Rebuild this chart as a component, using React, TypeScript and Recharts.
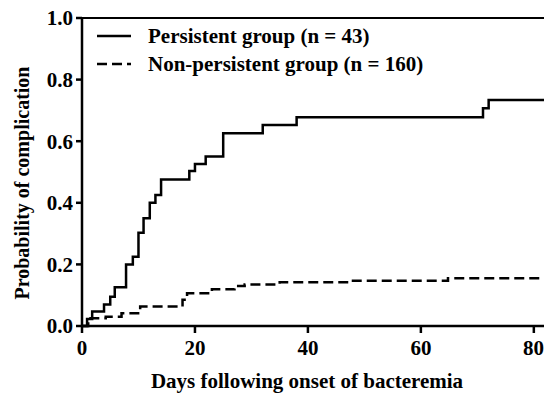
import { LineChart, Line, XAxis, YAxis, Legend, ReferenceLine } from 'recharts'

const persistentDays = [0, 0.9, 1.8, 3.9, 5.0, 5.8, 7.8, 9.0, 10.0, 10.9, 12.0, 13.0, 14.0, 19.0, 20.0, 21.9, 25.0, 32.0, 38.0, 71.0, 72.0, 81.8]
const persistentProb = [0, 0.023, 0.047, 0.07, 0.095, 0.126, 0.2, 0.225, 0.303, 0.35, 0.4, 0.425, 0.476, 0.503, 0.526, 0.55, 0.626, 0.653, 0.678, 0.707, 0.734, 0.734]

const nonPersistentDays = [0, 1.1, 4.2, 7.0, 10.3, 17.8, 18.6, 23.0, 27.0, 28.8, 35.0, 47.7, 64.8, 81.8]
const nonPersistentProb = [0, 0.025, 0.03, 0.041, 0.063, 0.085, 0.106, 0.119, 0.13, 0.135, 0.142, 0.147, 0.155, 0.155]

const xTicks = [0, 20, 40, 60, 80]
const yTicks = [0, 0.2, 0.4, 0.6, 0.8, 1.0]

const seriesNames = ['Persistent group (n = 43)', 'Non-persistent group (n = 160)']

const persistent = persistentDays.map((day, i) => ({ day, prob: persistentProb[i] }))
const nonPersistent = nonPersistentDays.map((day, i) => ({ day, prob: nonPersistentProb[i] }))

const font = "'Liberation Serif', 'Times New Roman', serif"
const axisStroke = { stroke: '#000', strokeWidth: 2.5 }

const renderLegend = () => (
  <div style={{ fontFamily: font, fontWeight: 'bold', fontSize: 21, color: '#000' }}>
    {seriesNames.map((name, i) => (
      <div key={name} style={{ display: 'flex', alignItems: 'center', height: 28 }}>
        <svg width={34} height={10}>
          <line x1={0} x2={34} y1={5} y2={5} stroke="#000" strokeWidth={2.5} strokeDasharray={i === 1 ? '10 5' : undefined} />
        </svg>
        <span style={{ marginLeft: 17, whiteSpace: 'nowrap' }}>{name}</span>
      </div>
    ))}
  </div>
)

export default function App() {
  return (
    <div style={{ position: 'absolute', left: 0, top: 0, background: '#fff' }}>
      <LineChart width={544} height={396} margin={{ top: 18, right: 0, bottom: 0, left: 0 }}>
        <XAxis
          type="number"
          dataKey="day"
          domain={[0, 81.8]}
          ticks={xTicks}
          axisLine={axisStroke}
          tickLine={axisStroke}
          tickSize={7}
          tickMargin={7}
          height={70}
          tick={{ fill: '#000', fontSize: 21, fontWeight: 'bold', fontFamily: font }}
          label={{ value: 'Days following onset of bacteremia', position: 'insideBottom', offset: 8, dx: -6, fill: '#000', fontSize: 21, fontWeight: 'bold', fontFamily: font }}
        />
        <YAxis
          type="number"
          domain={[0, 1]}
          ticks={yTicks}
          tickFormatter={(v: number) => v.toFixed(1)}
          axisLine={axisStroke}
          tickLine={axisStroke}
          tickSize={6}
          tickMargin={3}
          width={82}
          tick={{ fill: '#000', fontSize: 21, fontWeight: 'bold', fontFamily: font }}
          label={{ value: 'Probability of complication', angle: -90, position: 'center', dx: -19, dy: 11, fill: '#000', fontSize: 20, fontWeight: 'bold', fontFamily: font }}
        />
        <ReferenceLine y={1} stroke="#000" strokeWidth={2} />
        <Legend
          layout="vertical"
          align="center"
          verticalAlign="middle"
          content={renderLegend}
          wrapperStyle={{ top: 22, left: 97, width: 'auto' }}
        />
        <Line data={persistent} dataKey="prob" type="stepAfter" stroke="#000" strokeWidth={2.5} dot={false} isAnimationActive={false} />
        <Line data={nonPersistent} dataKey="prob" type="stepAfter" stroke="#000" strokeWidth={2.5} strokeDasharray="10 5" dot={false} isAnimationActive={false} />
      </LineChart>
    </div>
  )
}
